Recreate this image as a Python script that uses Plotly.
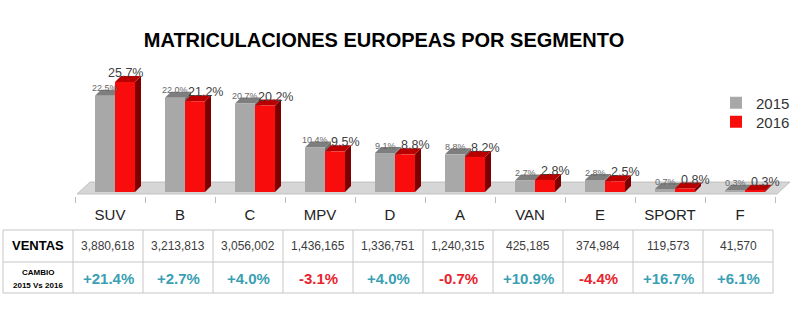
import plotly.graph_objects as go

# ---- data -------------------------------------------------------------
segments = ["SUV", "B", "C", "MPV", "D", "A", "VAN", "E", "SPORT", "F"]
share_2015 = [22.5, 22.0, 20.7, 10.4, 9.1, 8.8, 2.7, 2.8, 0.7, 0.3]
share_2016 = [25.7, 21.2, 20.2, 9.5, 8.8, 8.2, 2.8, 2.5, 0.8, 0.3]
ventas_2016 = [3880618, 3213813, 3056002, 1436165, 1336751,
               1240315, 425185, 374984, 119573, 41570]
cambio_pct = [21.4, 2.7, 4.0, -3.1, 4.0, -0.7, 10.9, -4.4, 16.7, 6.1]

# ---- page geometry (pixels) ------------------------------------------
W, H = 812, 336
PX_CAT = 70.0          # width of one category slot
CAT0_PX = 110.0        # horizontal pixel of the first category centre
PX_PCT = 4.28          # vertical pixels per percentage point
ZERO_PX = 192.0        # pixel row of the 0 % base line
AXIS_BOTTOM_PX = 196.0

x_range = [-CAT0_PX / PX_CAT, (W - CAT0_PX) / PX_CAT]
y_range = [-(AXIS_BOTTOM_PX - ZERO_PX) / PX_PCT, ZERO_PX / PX_PCT]

BAR_W = 20 / PX_CAT
OFF_2015 = -15 / PX_CAT
OFF_2016 = 5 / PX_CAT
DEPTH_X = 6 / PX_CAT
DEPTH_Y = 6 / PX_PCT

GREY_FRONT, GREY_TOP, GREY_SIDE = "#a8a8a8", "#7e7e7e", "#6e6e6e"
RED_FRONT, RED_TOP, RED_SIDE = "#f80c0c", "#b80000", "#7c0000"
TEAL, NEG_RED = "#3a9fb3", "#e8232d"
FONT = "Arial, Liberation Sans, sans-serif"

idx = list(range(len(segments)))


def ypaper(px):
    return 1 - px / H


def poly(points):
    return "M " + " L ".join(f"{x:.4f},{y:.4f}" for x, y in points) + " Z"


shapes = []

# floor slab under the bars
fl_front_y, fl_back_y = -2 / PX_PCT, 10 / PX_PCT
fl_x0, fl_x1, fl_shift = (77 - CAT0_PX) / PX_CAT, (777 - CAT0_PX) / PX_CAT, 13 / PX_CAT
shapes.append(dict(type="path", xref="x", yref="y", layer="below",
                   path=poly([(fl_x0, fl_front_y), (fl_x1, fl_front_y),
                              (fl_x1 + fl_shift, fl_back_y), (fl_x0 + fl_shift, fl_back_y)]),
                   fillcolor="#d6d6d6", line=dict(color="#b8b8b8", width=0.8)))


def box_faces(x_left, value, top_col, side_col):
    x_right = x_left + BAR_W
    side = poly([(x_right, 0), (x_right + DEPTH_X, DEPTH_Y),
                 (x_right + DEPTH_X, value + DEPTH_Y), (x_right, value)])
    top = poly([(x_left, value), (x_left + DEPTH_X, value + DEPTH_Y),
                (x_right + DEPTH_X, value + DEPTH_Y), (x_right, value)])
    return [dict(type="path", xref="x", yref="y", layer="below", path=side,
                 fillcolor=side_col, line=dict(width=0)),
            dict(type="path", xref="x", yref="y", layer="below", path=top,
                 fillcolor=top_col, line=dict(width=0))]


# depth faces, painted back-to-front (2015 first, 2016 over it)
for i in idx:
    shapes += box_faces(i + OFF_2015, share_2015[i], GREY_TOP, GREY_SIDE)
    shapes += box_faces(i + OFF_2016, share_2016[i], RED_TOP, RED_SIDE)

# table grid
col_edges = [(3 - CAT0_PX) / PX_CAT + k for k in range(len(segments) + 2)]
row_edges_px = [230, 262, 293]
grid = dict(color="#c6c6c6", width=1)
for yp in row_edges_px:
    shapes.append(dict(type="line", xref="x", yref="paper", x0=col_edges[0], x1=col_edges[-1],
                       y0=ypaper(yp), y1=ypaper(yp), line=grid))
for xe in col_edges:
    shapes.append(dict(type="line", xref="x", yref="paper", x0=xe, x1=xe,
                       y0=ypaper(row_edges_px[0]), y1=ypaper(row_edges_px[-1]), line=grid))

annotations = []


def note(**kw):
    kw.setdefault("showarrow", False)
    kw.setdefault("xanchor", "center")
    kw.setdefault("yanchor", "middle")
    annotations.append(kw)


# value labels above the bars
for i in idx:
    note(x=i + OFF_2015 + BAR_W / 2, y=share_2015[i], xref="x", yref="y",
         text=f"{share_2015[i]:.1f}%", yshift=7.5,
         font=dict(family=FONT, size=9, color="#666666"))
    note(x=i + OFF_2016 + BAR_W / 2, y=share_2016[i], xref="x", yref="y",
         text=f"{share_2016[i]:.1f}%", xshift=0 if i == 0 else 10, yshift=9,
         font=dict(family=FONT, size=12.5, color="#404040"))

# table contents
row1_y, row2_y = ypaper(246), ypaper(278)
note(x=-1, y=row1_y, xref="x", yref="paper", xshift=-2, text="<b>VENTAS</b>",
     font=dict(family=FONT, size=13, color="#000000"))
note(x=-1, y=ypaper(272), xref="x", yref="paper", xshift=-2, text="<b>CAMBIO</b>",
     font=dict(family=FONT, size=8, color="#000000"))
note(x=-1, y=ypaper(285), xref="x", yref="paper", xshift=-2, text="<b>2015 Vs 2016</b>",
     font=dict(family=FONT, size=8, color="#000000"))
for i in idx:
    note(x=i, y=row1_y, xref="x", yref="paper", xshift=-2,
         text=f"{ventas_2016[i]:,}", font=dict(family=FONT, size=12, color="#3c3c3c"))
    c = cambio_pct[i]
    note(x=i, y=row2_y, xref="x", yref="paper", xshift=-2,
         text=f"<b>{c:+.1f}%</b>",
         font=dict(family=FONT, size=15, color=TEAL if c >= 0 else NEG_RED))

fig = go.Figure()
fig.add_trace(go.Bar(x=idx, y=share_2015, name="2015", width=BAR_W, offset=OFF_2015,
                     marker=dict(color=GREY_FRONT, line=dict(width=0)),
                     legend="legend", showlegend=True))
fig.add_trace(go.Bar(x=idx, y=share_2016, name="2016", width=BAR_W, offset=OFF_2016,
                     marker=dict(color=RED_FRONT, line=dict(width=0)),
                     legend="legend2", showlegend=True))

legend_style = dict(xanchor="left", yanchor="middle",
                    font=dict(family=FONT, size=15, color="#333333"),
                    bgcolor="rgba(0,0,0,0)", itemwidth=30)

fig.update_layout(
    width=W, height=H,
    margin=dict(l=0, r=0, t=0, b=0),
    paper_bgcolor="white", plot_bgcolor="white",
    barmode="overlay",
    showlegend=True,
    title=dict(text="<b>MATRICULACIONES EUROPEAS POR SEGMENTO</b>", x=384 / W, y=ypaper(40),
               xanchor="center", yanchor="middle",
               font=dict(family=FONT, size=20, color="#000000")),
    xaxis=dict(domain=[0, 1], range=x_range, tickmode="array", tickvals=idx, ticktext=segments,
               ticks="", showgrid=False, zeroline=False, showline=False, ticklabelstandoff=8,
               tickfont=dict(family=FONT, size=15, color="#222222"),
               minor=dict(tickmode="array", tickvals=[i + 0.5 for i in range(-1, len(segments))],
                          ticks="outside", ticklen=6, tickcolor="#bdbdbd", tickwidth=1, showgrid=False)),
    yaxis=dict(domain=[1 - AXIS_BOTTOM_PX / H, 1], range=y_range, visible=False),
    legend=dict(x=716 / W, y=ypaper(103), **legend_style),
    legend2=dict(x=716 / W, y=ypaper(122), **legend_style),
    shapes=shapes,
    annotations=annotations,
)

fig.write_html("out.html")
